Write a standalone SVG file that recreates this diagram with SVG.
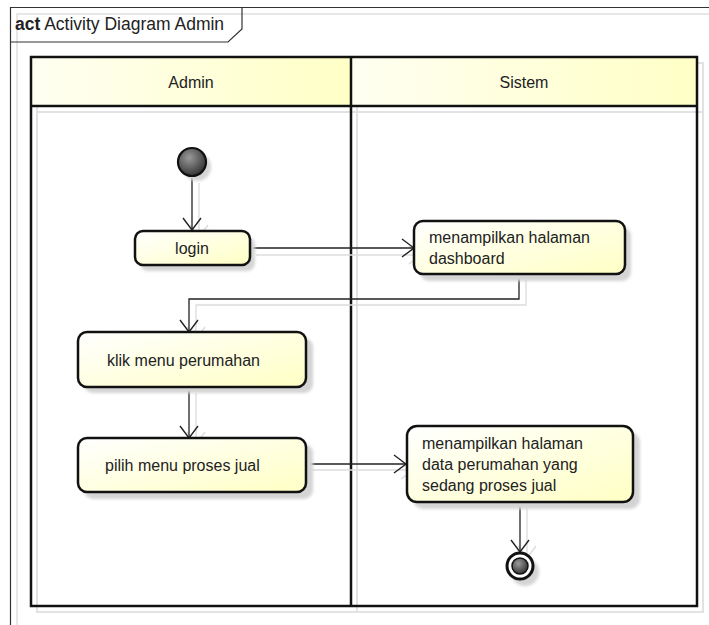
<svg xmlns="http://www.w3.org/2000/svg" width="709" height="625" viewBox="0 0 709 625">
<defs>
<linearGradient id="yel" x1="0" y1="0" x2="1" y2="1">
<stop offset="0" stop-color="#ffffff"/>
<stop offset="1" stop-color="#ffffc4"/>
</linearGradient>
<linearGradient id="hdr" x1="0" y1="0" x2="1" y2="0">
<stop offset="0" stop-color="#fffff2"/>
<stop offset="1" stop-color="#ffffc6"/>
</linearGradient>
<radialGradient id="dark" cx="0.4" cy="0.35" r="0.7">
<stop offset="0" stop-color="#9a9a9a"/>
<stop offset="1" stop-color="#2e2e2e"/>
</radialGradient>
<filter id="blur" x="-20%" y="-20%" width="140%" height="140%">
<feGaussianBlur stdDeviation="1.5"/>
</filter>
<marker id="arr" viewBox="0 0 14 20" refX="13" refY="10" markerWidth="14" markerHeight="20" markerUnits="userSpaceOnUse" orient="auto">
<path d="M1,1 L13,10 L1,19" fill="none" stroke="#222" stroke-width="1.4"/>
</marker>
<marker id="arrS" viewBox="0 0 14 20" refX="13" refY="10" markerWidth="14" markerHeight="20" markerUnits="userSpaceOnUse" orient="auto">
<path d="M1,1 L13,10 L1,19" fill="none" stroke="#dcdcdc" stroke-width="1.4"/>
</marker>
</defs>
<style>
text{font-family:"Liberation Sans",Arial,sans-serif;font-size:16px;fill:#222}
.box{fill:url(#yel);stroke:#111;stroke-width:2.5}
.shadow{fill:#d4d4d4;filter:url(#blur)}
.conn{fill:none;stroke:#222;stroke-width:1.3;marker-end:url(#arr)}
.connS{fill:none;stroke:#dcdcdc;stroke-width:1.3;marker-end:url(#arrS)}
.gray{fill:none;stroke:#e2e2e2;stroke-width:2}
</style>
<rect width="709" height="625" fill="#ffffff"/>

<g id="frame">
<path d="M17,625 L17,14 L709,14" fill="none" stroke="#e0e0e0" stroke-width="1.5"/>
<path d="M10.5,625 L10.5,7.5 L709,7.5" fill="none" stroke="#333" stroke-width="1.2"/>
<path d="M10.5,42 L228,42 L242,29 L242,7.5" fill="none" stroke="#333" stroke-width="1.2"/>
<text x="15" y="30" style="font-size:17.5px"><tspan font-weight="bold">act</tspan> Activity Diagram Admin</text>
</g>

<g id="pool">
<rect x="37" y="63" width="666" height="549" class="gray"/>
<line x1="357" y1="63" x2="357" y2="612" class="gray"/>
<line x1="37" y1="112" x2="703" y2="112" class="gray"/>
<rect x="31" y="57" width="320" height="49" fill="url(#hdr)"/>
<rect x="351" y="57" width="346" height="49" fill="url(#hdr)"/>
<rect x="31" y="57" width="666" height="549" fill="none" stroke="#111" stroke-width="2.5"/>
<line x1="31" y1="106" x2="697" y2="106" stroke="#111" stroke-width="2.5"/>
<line x1="351" y1="57" x2="351" y2="606" stroke="#111" stroke-width="2.5"/>
<text x="191" y="88" text-anchor="middle">Admin</text>
<text x="524" y="88" text-anchor="middle">Sistem</text>
</g>

<g id="connectors">
<path class="connS" d="M199,183 L199,237"/>
<path class="connS" d="M256,255 L421,255"/>
<path class="connS" d="M526,280 L526,305 L196,305 L196,339"/>
<path class="connS" d="M196,393 L196,444"/>
<path class="connS" d="M312,470 L413,470"/>
<path class="connS" d="M527,508 L527,558"/>
<path class="conn" d="M192,177 L192,230"/>
<path class="conn" d="M250,248 L414,248"/>
<path class="conn" d="M519,274 L519,299 L189,299 L189,332"/>
<path class="conn" d="M189,387 L189,438"/>
<path class="conn" d="M306,464 L406,464"/>
<path class="conn" d="M520,502 L520,552"/>
</g>

<g id="start">
<circle cx="197" cy="167" r="14" class="shadow"/>
<circle cx="192" cy="162" r="14" fill="url(#dark)" stroke="#111" stroke-width="2.2"/>
</g>

<g id="login">
<rect x="140" y="237" width="115" height="34" rx="8" class="shadow"/>
<rect x="135" y="231" width="115" height="34" rx="8" class="box"/>
<text x="192" y="254" text-anchor="middle">login</text>
</g>

<g id="dashboard">
<rect x="420" y="227" width="211" height="54" rx="9" class="shadow"/>
<rect x="414" y="221" width="211" height="53" rx="9" class="box"/>
<text x="429" y="243">menampilkan halaman</text>
<text x="429" y="264">dashboard</text>
</g>

<g id="klik">
<rect x="84" y="338" width="229" height="55" rx="9" class="shadow"/>
<rect x="78" y="332" width="228" height="55" rx="9" class="box"/>
<text x="107" y="366">klik menu perumahan</text>
</g>

<g id="pilih">
<rect x="84" y="444" width="229" height="55" rx="9" class="shadow"/>
<rect x="78" y="438" width="228" height="54" rx="9" class="box"/>
<text x="105" y="471">pilih menu proses jual</text>
</g>

<g id="data">
<rect x="413" y="432" width="227" height="77" rx="10" class="shadow"/>
<rect x="407" y="426" width="226" height="76" rx="10" class="box"/>
<text x="422" y="449">menampilkan halaman</text>
<text x="422" y="470">data perumahan yang</text>
<text x="422" y="491">sedang proses jual</text>
</g>

<g id="end">
<circle cx="525" cy="572" r="14" class="shadow"/>
<circle cx="520" cy="566" r="13" fill="#fff" stroke="#111" stroke-width="3"/>
<circle cx="520" cy="566" r="8" fill="url(#dark)" stroke="#111" stroke-width="1.5"/>
</g>
</svg>
